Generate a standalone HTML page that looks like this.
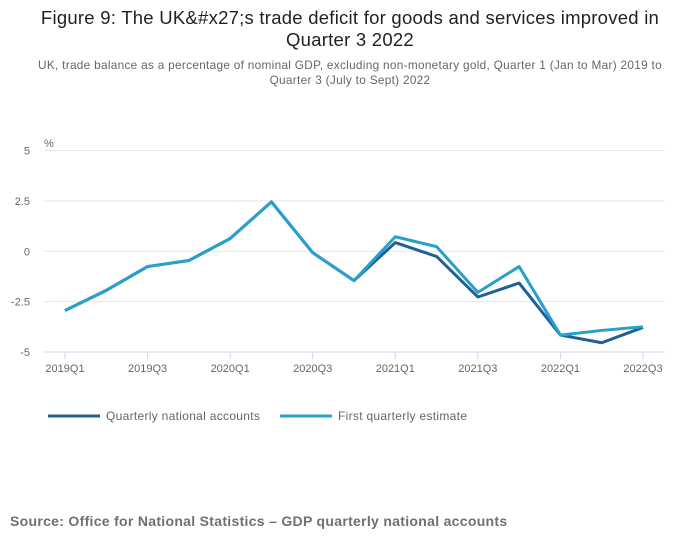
<!DOCTYPE html>
<html><head><meta charset="utf-8"><style>
body{margin:0;background:#fff;font-family:"Liberation Sans",sans-serif;}
#c{position:relative;width:700px;height:549px;overflow:hidden;}
</style></head><body>
<div id="c">
<svg id="s" width="700" height="549" xmlns="http://www.w3.org/2000/svg">
<text x="350" y="24" text-anchor="middle" font-size="18.5" letter-spacing="0.25" fill="#222">Figure 9: The UK&amp;#x27;s trade deficit for goods and services improved in</text>
<text x="350" y="46" text-anchor="middle" font-size="18.5" letter-spacing="0.25" fill="#222">Quarter 3 2022</text>
<text x="350" y="69" text-anchor="middle" font-size="11.8" letter-spacing="0.3" fill="#666">UK, trade balance as a percentage of nominal GDP, excluding non-monetary gold, Quarter 1 (Jan to Mar) 2019 to</text>
<text x="350" y="84" text-anchor="middle" font-size="11.8" letter-spacing="0.3" fill="#666">Quarter 3 (July to Sept) 2022</text>
<text x="44" y="147" font-size="11" fill="#666">%</text>
<g id="grid"></g><g id="xax"></g><g id="lines"></g>
<g>
<line x1="48" y1="416" x2="100" y2="416" stroke="#206095" stroke-width="3"/>
<text x="106" y="420" font-size="12" letter-spacing="0.3" fill="#666">Quarterly national accounts</text>
<line x1="280" y1="416" x2="332" y2="416" stroke="#27a0cc" stroke-width="3"/>
<text x="338" y="420" font-size="12" letter-spacing="0.3" fill="#666">First quarterly estimate</text>
</g>
<text x="10" y="526" font-size="14" letter-spacing="0.3" font-weight="bold" fill="#707070">Source: Office for National Statistics – GDP quarterly national accounts</text>
</svg>
</div>
<script>
const categories=["2019Q1","2019Q2","2019Q3","2019Q4","2020Q1","2020Q2","2020Q3","2020Q4","2021Q1","2021Q2","2021Q3","2021Q4","2022Q1","2022Q2","2022Q3"];
const qnaValues=[-2.94,-1.94,-0.76,-0.46,0.63,2.45,-0.07,-1.46,0.43,-0.26,-2.27,-1.58,-4.16,-4.54,-3.78];
const firstValues=[-2.94,-1.94,-0.76,-0.46,0.63,2.45,-0.07,-1.46,0.72,0.23,-2.04,-0.76,-4.16,-3.93,-3.75];
const yTicks=[5,2.5,0,-2.5,-5];
const yTickLabels=["5","2.5","0","-2.5","-5"];
const NS="http://www.w3.org/2000/svg";
const x0=65,x1=643,yTop=150.5,yBot=352;
function xs(i){return x0+(x1-x0)*i/(categories.length-1);}
function ys(v){return yBot-(v+5)/10*(yBot-yTop);}
function mk(t,a,p){const e=document.createElementNS(NS,t);for(const k in a)e.setAttribute(k,a[k]);p.appendChild(e);return e;}
const grid=document.getElementById('grid');
yTicks.forEach((v,i)=>{
 if(v!==-5){const l=mk('line',{x1:44,x2:665,y1:ys(v),y2:ys(v),stroke:'#e6e6e6','stroke-width':1},grid);
 
 }
 const t=mk('text',{x:30,y:ys(v)+4,'text-anchor':'end','font-size':11,fill:'#666'},grid);
 t.textContent=yTickLabels[i];
 
 
});
const xax=document.getElementById('xax');
const ax=mk('line',{x1:44,x2:665,y1:yBot,y2:yBot,stroke:'#ccd6eb','stroke-width':1},xax);


categories.forEach((c,i)=>{
 if(i%2)return;
 const tk=mk('line',{x1:xs(i),x2:xs(i),y1:yBot,y2:yBot+7,stroke:'#ccd6eb'},xax);
 
 
 const t=mk('text',{x:xs(i),y:372,'text-anchor':'middle','font-size':11,fill:'#666'},xax);
 t.textContent=c;
 
 
});
const lg=document.getElementById('lines');
function draw(vals,col,name){
 const p=mk('polyline',{points:vals.map((v,i)=>xs(i)+','+ys(v)).join(' '),fill:'none',stroke:col,'stroke-width':3,'stroke-linejoin':'round'},lg);
 
 
}
draw(qnaValues,'#206095','series-quarterly-national-accounts');
draw(firstValues,'#27a0cc','series-first-quarterly-estimate');
</script>
</body></html>
